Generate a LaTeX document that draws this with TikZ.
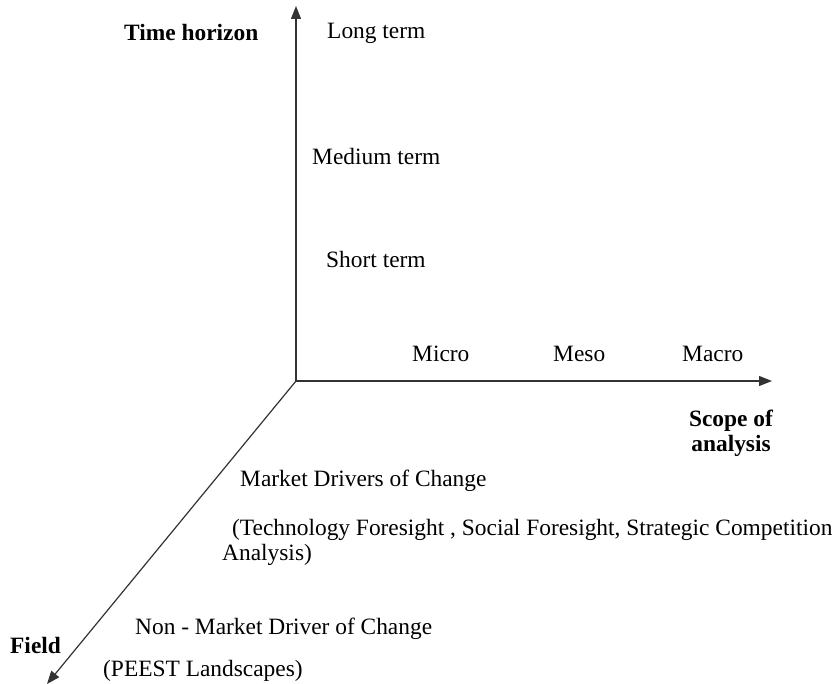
\documentclass[tikz,border=0pt]{standalone}
\usepackage{fontspec}
\setmainfont{Liberation Serif}
\usetikzlibrary{arrows.meta}
\begin{document}
\begin{tikzpicture}[x=1pt,y=-1pt,
  lbl/.style={inner sep=0pt,anchor=west,font=\fontsize{23.4}{27}\selectfont},
  blbl/.style={lbl,font=\fontsize{23.4}{27}\selectfont\bfseries},
  axis/.style={line width=1.2pt,draw=black!80,-{Triangle[length=13pt,width=10pt]}}]
\useasboundingbox (0,0) rectangle (835,684);
\coordinate (o) at (296,381);
\coordinate (top) at (296,6);
\coordinate (right) at (772,381);
\coordinate (ll) at (47,684);
\draw[axis] (o) -- (top);
\draw[axis] (o) -- (right);
\draw[axis] (o) -- (ll);
\node[blbl] (th) at (124,33) {Time horizon};
\node[lbl] (lt) at (327,33) {Long term};
\node[lbl] (mt) at (312,156) {Medium term};
\node[lbl] (st) at (326,259) {Short term};
\node[lbl] (mi) at (412,354) {Micro};
\node[lbl] (me) at (553,354) {Meso};
\node[lbl] (ma) at (682,354) {Macro};
\node[blbl,anchor=center,align=center,font=\fontsize{23.4}{25}\selectfont\bfseries] (sc) at (731,433) {Scope of\\analysis};
\node[lbl] (md) at (240,481) {Market Drivers of Change};
\node[lbl,align=left,font=\fontsize{23.4}{25}\selectfont] (tf) at (222,542) {\hspace*{10pt}(Technology Foresight , Social Foresight, Strategic Competition\\Analysis)};
\node[blbl] (fi) at (10,645) {Field};
\node[lbl] (nm) at (135,629) {Non - Market Driver of Change};
\node[lbl] (pe) at (103,671) {(PEEST Landscapes)};
\end{tikzpicture}
\end{document}
